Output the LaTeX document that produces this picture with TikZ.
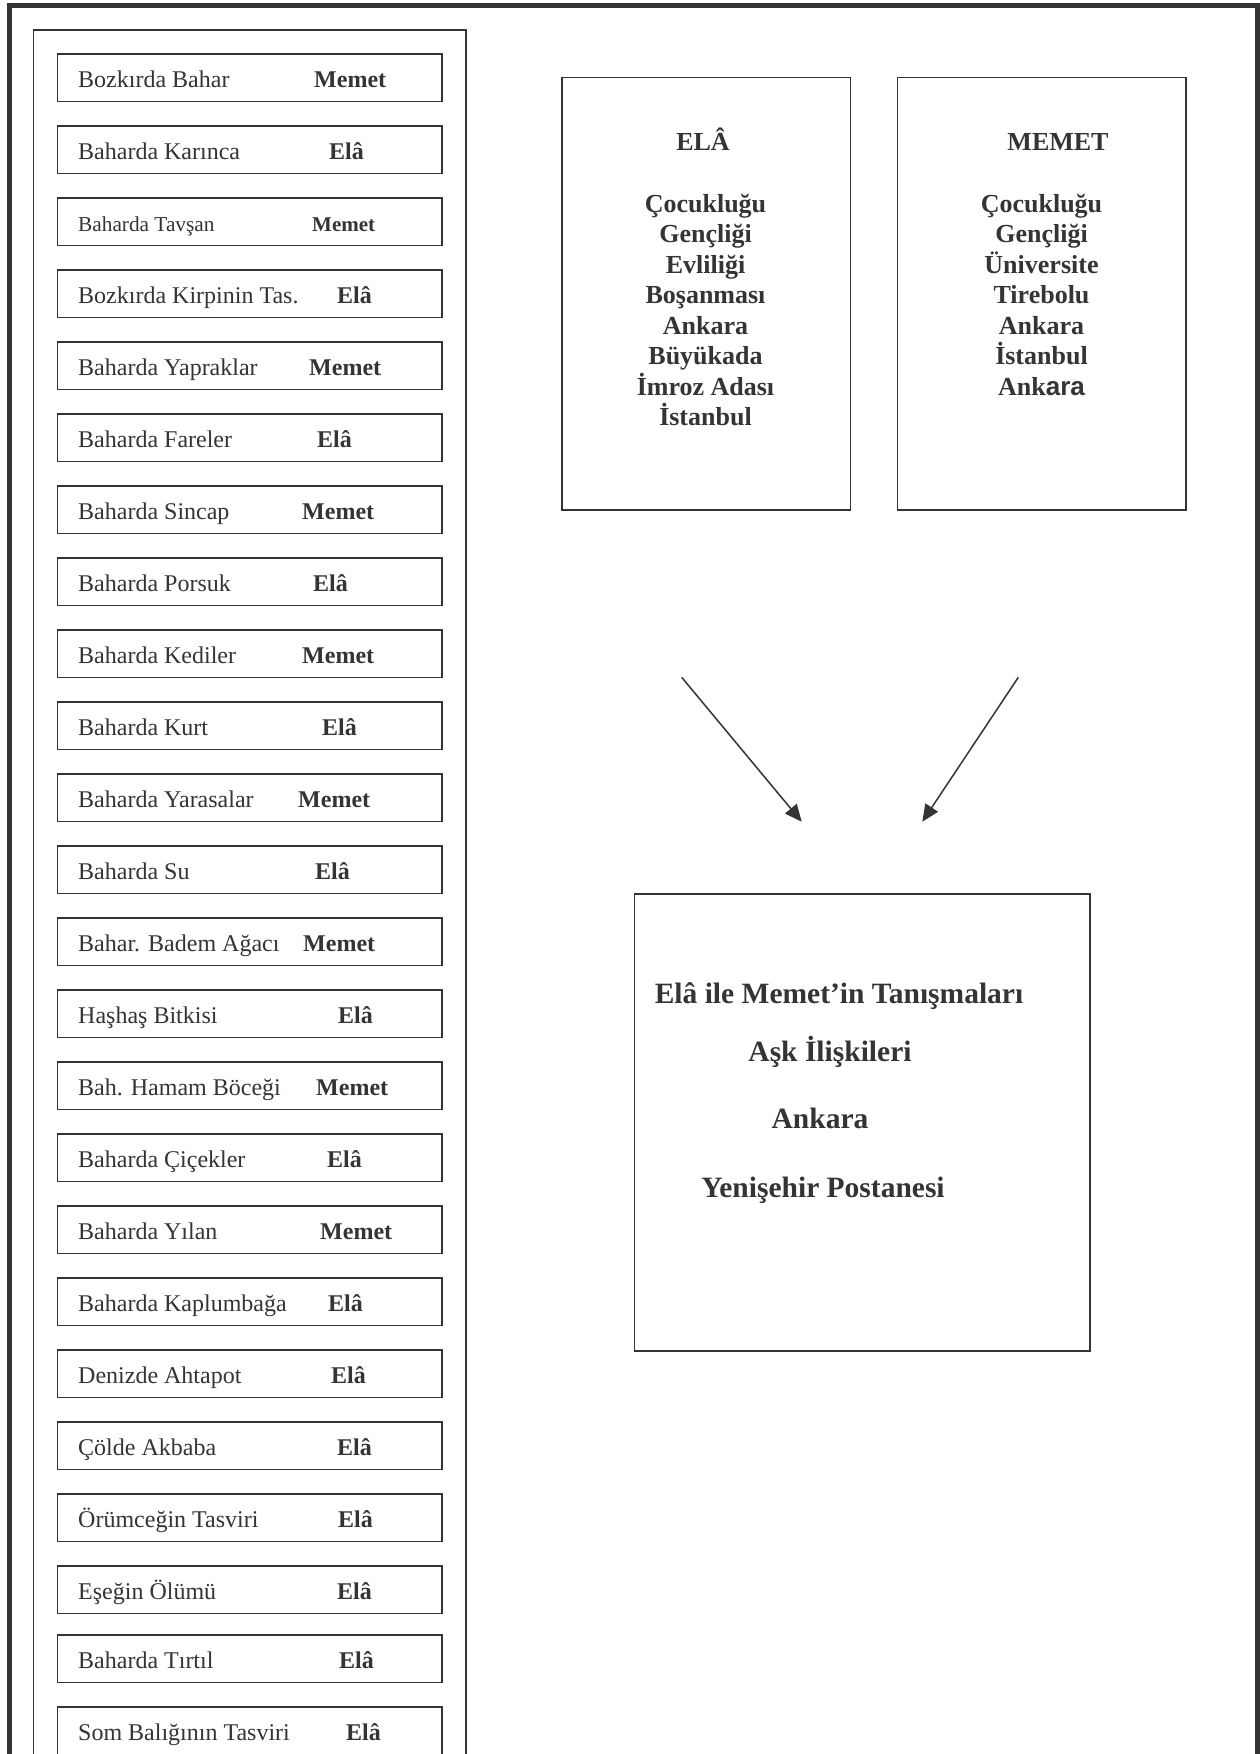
\documentclass[tikz,border=0pt]{standalone}
\usepackage{fontspec}
\setmainfont{Liberation Serif}
\newfontfamily\sansfam{Liberation Sans}
\usetikzlibrary{arrows.meta}
\definecolor{ink}{RGB}{52,51,56}
\newcommand\fsz[1]{\fontsize{#1pt}{#1pt}\selectfont}
\tikzset{
  itembox/.style={draw=ink, line width=1.7pt, minimum width=384.5pt, minimum height=47.5pt, inner sep=0pt},
  itemtxt/.style={text=ink, anchor=base west, inner sep=0pt},
  bigbox/.style={draw=ink, line width=1.7pt, inner sep=0pt},
  listtxt/.style={text=ink, anchor=base, inner sep=0pt, font=\fsz{26}\bfseries},
  midtxt/.style={text=ink, anchor=base, inner sep=0pt, font=\fsz{29.5}\bfseries},
  arrowline/.style={draw=ink, line width=1.5pt, -{Triangle[length=17pt,width=15pt]}}
}
\begin{document}
\begin{tikzpicture}[x=1pt,y=-1pt]
\useasboundingbox (0,0) rectangle (1259,1754);
\fill[white] (0,0) rectangle (1259,1754);
% outer frame
\draw[ink, line width=5pt] (9.5,1770) -- (9.5,5.5) -- (1257,5.5) -- (1257,1770);
% inner panel
\draw[ink, line width=1.3pt] (33.5,1770) -- (33.5,30) -- (466,30) -- (466,1770);
% items
\foreach \i/\tp/\lt/\lfs/\nm/\nx/\nfs in {
 1/54/Bozkırda Bahar/24/Memet/314/24,
 2/126/Baharda Karınca/24/Elâ/329/24,
 3/198/Baharda Tavşan/21.3/Memet/312/21,
 4/270/Bozkırda Kirpinin Tas./24/Elâ/337/24,
 5/342/Baharda Yapraklar/24/Memet/309/24,
 6/414/Baharda Fareler/24/Elâ/317/24,
 7/486/Baharda Sincap/24/Memet/302/24,
 8/558/Baharda Porsuk/24/Elâ/313/24,
 9/630/Baharda Kediler/24/Memet/302/24,
 10/702/Baharda Kurt/24/Elâ/322/24,
 11/774/Baharda Yarasalar/24/Memet/298/24,
 12/846/Baharda Su/24/Elâ/315/24,
 13/918/Bahar. Badem Ağacı/24/Memet/303/24,
 14/990/Haşhaş Bitkisi/24/Elâ/338/24,
 15/1062/Bah. Hamam Böceği/24/Memet/316/24,
 16/1134/Baharda Çiçekler/24/Elâ/327/24,
 17/1206/Baharda Yılan/24/Memet/320/24,
 18/1278/Baharda Kaplumbağa/24/Elâ/328/24,
 19/1350/Denizde Ahtapot/24/Elâ/331/24,
 20/1422/Çölde Akbaba/24/Elâ/337/24,
 21/1494/Örümceğin Tasviri/24/Elâ/338/24,
 22/1566/Eşeğin Ölümü/24/Elâ/337/24,
 23/1635/Baharda Tırtıl/24/Elâ/339/24,
 24/1707/Som Balığının Tasviri/24/Elâ/346/24}{
  \node[itembox] (b\i) at (249.75,\tp+23.75) {};
  \node[itemtxt, font=\fsz{\lfs}] (t\i) at (78,\tp+33) {\lt};
  \node[itemtxt, font=\fsz{\nfs}\bfseries] (n\i) at (\nx,\tp+33) {\nm};
}
% ELA box
\node[bigbox, minimum width=288.7pt, minimum height=432.8pt] (ela) at (706.15,293.9) {};
\node[listtxt] (elat) at (703,150) {ELÂ};
\foreach \k/\w in {0/Çocukluğu,1/Gençliği,2/Evliliği,3/Boşanması,4/Ankara,5/Büyükada,6/İmroz Adası,7/İstanbul}{
  \node[listtxt] (e\k) at (705.5,212.3+30.5*\k) {\w};
}
% MEMET box
\node[bigbox, minimum width=288.5pt, minimum height=432.8pt] (mem) at (1041.75,293.9) {};
\node[listtxt] (memt) at (1058,150) {MEMET};
\foreach \k/\w in {0/Çocukluğu,1/Gençliği,2/Üniversite,3/Tirebolu,4/Ankara,5/İstanbul}{
  \node[listtxt] (m\k) at (1041.5,212.3+30.5*\k) {\w};
}
\node[listtxt] (m6) at (1041.5,395) {Ank{\sansfam\bfseries ara}};
% bottom box
\node[bigbox, minimum width=455.5pt, minimum height=456.6pt] (meet) at (862.25,1122.5) {};
\node[midtxt] (l1) at (839,1003) {Elâ ile Memet’in Tanışmaları};
\node[midtxt] (l2) at (830,1061) {Aşk İlişkileri};
\node[midtxt] (l3) at (820,1128) {Ankara};
\node[midtxt] (l4) at (823,1197) {Yenişehir Postanesi};
% arrows
\coordinate (a1s) at (681.7,677.3);
\coordinate (a1e) at (801.7,821.7);
\coordinate (a2s) at (1018.3,677.3);
\coordinate (a2e) at (922.3,821.7);
\draw[arrowline] (a1s) -- (a1e);
\draw[arrowline] (a2s) -- (a2e);
\end{tikzpicture}
\end{document}
